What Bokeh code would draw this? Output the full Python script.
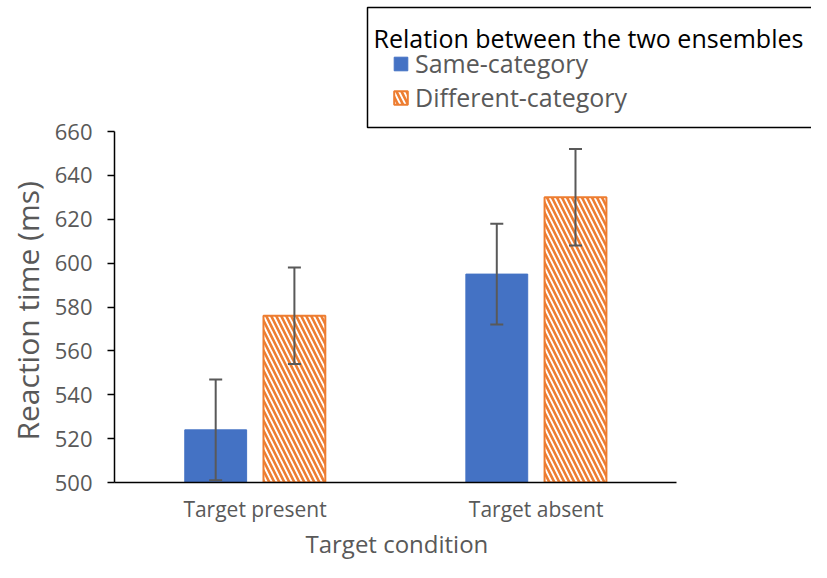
from bokeh.plotting import figure
from bokeh.models import (ColumnDataSource, Range1d, Legend, LegendItem, Whisker, TeeHead,
                          FixedTicker, Label, PolyAnnotation, Title)
from bokeh.embed import file_html
from bokeh.resources import INLINE

# ---- data ----
conditions = ["Target present", "Target absent"]
same_mean = [524, 595]
same_lower = [501, 572]
same_upper = [547, 618]
diff_mean = [576, 630]
diff_lower = [554, 608]
diff_upper = [598, 652]
y_ticks = [500, 520, 540, 560, 580, 600, 620, 640, 660]
series_names = ["Same-category", "Different-category"]
legend_title = "Relation between the two ensembles"
x_title = "Target condition"
y_title = "Reaction time (ms)"

# ---- style / layout ----
FONT = "Open Sans"
GRAY = "#595959"
BLUE = "#4472C4"
ORANGE = "#ED7D31"
W, H = 811, 562
LEFT = 113            # y-axis position (px)
FRAME_BOTTOM = 482    # x-axis position (px)
Y660_PX = 131         # pixel row of the 660 tick
AXIS_RIGHT = 676      # right end of x-axis (px)
OFFSET = 0.14         # dodge of the two bars (category units)
BAR_W = 0.22

y_scale = (FRAME_BOTTOM - Y660_PX) / (y_ticks[-1] - y_ticks[0])
y_end = y_ticks[0] + FRAME_BOTTOM / y_scale
n_cat = len(conditions)
x_scale = (AXIS_RIGHT - LEFT) / n_cat
x_end = (W - LEFT) / x_scale

p = figure(width=W, height=H, output_backend="svg", toolbar_location=None,
           x_range=Range1d(0, x_end), y_range=Range1d(y_ticks[0], y_end),
           min_border_left=LEFT, min_border_right=0, min_border_top=0,
           min_border_bottom=H - FRAME_BOTTOM)
p.outline_line_color = None
p.grid.visible = False
p.background_fill_color = "white"
p.border_fill_color = "white"

centers = [i + 0.5 for i in range(n_cat)]
src_same = ColumnDataSource(dict(x=[c - OFFSET for c in centers], top=same_mean,
                                 lower=same_lower, upper=same_upper))
src_diff = ColumnDataSource(dict(x=[c + OFFSET for c in centers], top=diff_mean,
                                 lower=diff_lower, upper=diff_upper))

r1 = p.vbar(x="x", top="top", bottom=y_ticks[0], width=BAR_W, source=src_same,
            fill_color=BLUE, line_color=BLUE, line_width=1)
r2 = p.vbar(x="x", top="top", bottom=y_ticks[0], width=BAR_W, source=src_diff,
            fill_color="white", line_color=ORANGE, line_width=2,
            hatch_pattern="\\", hatch_color=ORANGE, hatch_weight=2.6, hatch_scale=10)

for src in (src_same, src_diff):
    w = Whisker(base="x", upper="upper", lower="lower", source=src, level="overlay",
                line_color=GRAY, line_width=2,
                upper_head=TeeHead(size=13, line_color=GRAY, line_width=2),
                lower_head=TeeHead(size=13, line_color=GRAY, line_width=2))
    p.add_layout(w)

# y axis
ya = p.yaxis[0]
ya.ticker = FixedTicker(ticks=y_ticks)
ya.bounds = (y_ticks[0], y_ticks[-1])
ya.axis_line_color = "black"
ya.axis_line_width = 1.5
ya.major_tick_line_color = "black"
ya.major_tick_line_width = 1.5
ya.major_tick_in = 0
ya.major_tick_out = 7
ya.minor_tick_line_color = None
ya.major_label_text_font = FONT
ya.major_label_text_font_size = "22px"
ya.major_label_text_color = GRAY
ya.major_label_standoff = 15

# x axis
xa = p.xaxis[0]
xa.ticker = FixedTicker(ticks=centers)
xa.major_label_overrides = {c: name for c, name in zip(centers, conditions)}
xa.bounds = (0, n_cat)
xa.axis_line_color = "black"
xa.axis_line_width = 1.5
xa.major_tick_line_color = None
xa.major_tick_in = 0
xa.major_tick_out = 0
xa.minor_tick_line_color = None
xa.major_label_text_font = FONT
xa.major_label_text_font_size = "21px"
xa.major_label_text_color = GRAY
xa.major_label_standoff = 12

# axis titles centred on the bounded axes (frame extends under the legend)
xt = Title(text=x_title, align="left", offset=191, standoff=2, vertical_align="top",
           text_font=FONT, text_font_size="24px", text_font_style="normal",
           text_color=GRAY)
p.add_layout(xt, "below")
yt = Title(text=y_title, align="left", offset=42, standoff=8, vertical_align="bottom",
           text_font=FONT, text_font_size="30px", text_font_style="normal",
           text_color=GRAY)
p.add_layout(yt, "left")

# legend box, running off the right edge (frame-relative screen units)
bx0, bx1 = 366 - LEFT, 900 - LEFT
by0, by1 = FRAME_BOTTOM - 7, FRAME_BOTTOM - 127
box_fill = PolyAnnotation(xs=[bx0, bx1, bx1, bx0], ys=[by0, by0, by1, by1],
                          xs_units="screen", ys_units="screen",
                          fill_color="white", fill_alpha=1.0, line_color=None,
                          level="overlay")
p.add_layout(box_fill)
# open outline (top, left, bottom) traced out and back so no right edge is drawn
box_line = PolyAnnotation(xs=[bx1, bx0, bx0, bx1, bx0, bx0],
                          ys=[by0, by0, by1, by1, by1, by0],
                          xs_units="screen", ys_units="screen",
                          fill_alpha=0.0, line_color="black", line_alpha=1.0,
                          line_width=1.5, level="overlay")
p.add_layout(box_line)

title = Label(x=372 - LEFT, y=FRAME_BOTTOM - 37, x_units="screen", y_units="screen",
              text=legend_title, text_font=FONT, text_font_size="25px",
              text_color="black", text_baseline="alphabetic", text_align="left",
              level="overlay")
p.add_layout(title)

legend = Legend(items=[LegendItem(label=series_names[0], renderers=[r1]),
                       LegendItem(label=series_names[1], renderers=[r2])],
                location=(391 - LEFT, FRAME_BOTTOM - 114),
                label_text_font=FONT, label_text_font_size="25px", label_text_color=GRAY,
                glyph_width=17, glyph_height=17, label_standoff=6, spacing=0,
                padding=0, margin=0,
                border_line_color=None, background_fill_alpha=0.0)
p.add_layout(legend, "center")

open("out.html", "w").write(file_html(p, INLINE))
